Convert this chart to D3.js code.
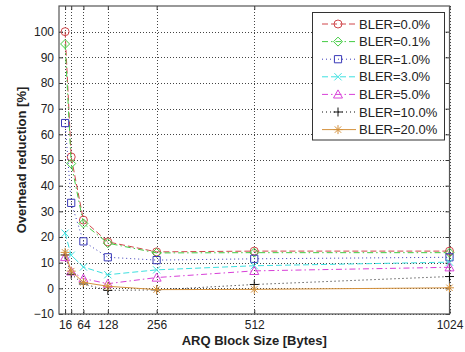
<!DOCTYPE html>
<html>
<head>
<meta charset="utf-8">
<script src="https://cdn.jsdelivr.net/npm/d3@7"></script>
<style>
  body { margin: 0; background: #fff; }
  svg { display: block; }
  text { font-family: "Liberation Sans", Arial, sans-serif; fill: #222; }
</style>
</head>
<body>
<svg id="chart" width="465" height="352"></svg>
<script>
// ARQ block sizes (bytes) and axis ticks
const blockSizes = [16, 32, 64, 128, 256, 512, 1024];
const xTicks = [16, 32, 64, 128, 256, 512, 1024];
const xTickLabels = ["16", "", "64", "128", "256", "512", "1024"];
const yTicks = [-10, 0, 10, 20, 30, 40, 50, 60, 70, 80, 90, 100];

// Overhead reduction [%] per block error rate
const seriesNames = ["BLER=0.0%", "BLER=0.1%", "BLER=1.0%", "BLER=3.0%", "BLER=5.0%", "BLER=10.0%", "BLER=20.0%"];
const bler00 = [100, 51.2, 26.6, 18.1, 14.2, 14.5, 14.5];
const bler01 = [95.2, 48.6, 25.3, 17.6, 13.8, 13.9, 13.9];
const bler1 = [64.4, 33.3, 18.3, 12.1, 11.0, 11.5, 12.1];
const bler3 = [21.5, 12.9, 8.3, 5.3, 7.2, 8.8, 10.2];
const bler5 = [12.2, 6.6, 3.8, 1.8, 4.2, 6.8, 8.2];
const bler10 = [13.0, 5.5, 1.7, -0.8, -0.6, 1.5, 4.6];
const bler20 = [14.0, 6.7, 2.3, 0.8, -0.5, -0.4, 0.2];
const seriesValues = [bler00, bler01, bler1, bler3, bler5, bler10, bler20];

// Line colour, dash pattern and marker for each series
const styles = [
  { color: "#d0474b", dash: "6,3", marker: "circle" },
  { color: "#44cc44", dash: "6,3,1.5,3", marker: "diamond" },
  { color: "#3a3ab8", dash: "1,3", marker: "square" },
  { color: "#3ee0e0", dash: "6,3", marker: "cross" },
  { color: "#d840d8", dash: "6,3,1.5,3", marker: "triangle" },
  { color: "#111111", dash: "1,3", marker: "plus" },
  { color: "#d4913c", dash: null, marker: "star" }
];

const svg = d3.select("#chart");
const L = 59, R = 449.5, T = 6, B = 314;

const x = d3.scaleLinear().domain([0, 1024]).range([L, R]);
const y = d3.scaleLinear().domain([-10, 110]).range([B, T]);

function markerPath(type, cx, cy) {
  const p = d3.path();
  if (type === "circle") {
    const r = 4;
    p.moveTo(cx + r, cy); p.arc(cx, cy, r, 0, 2 * Math.PI);
  } else if (type === "diamond") {
    const r = 4.5;
    p.moveTo(cx, cy - r); p.lineTo(cx + r, cy); p.lineTo(cx, cy + r); p.lineTo(cx - r, cy); p.closePath();
  } else if (type === "square") {
    const s = 3.6;
    p.rect(cx - s, cy - s, 2 * s, 2 * s);
  } else if (type === "triangle") {
    const r = 4.5;
    p.moveTo(cx, cy - r); p.lineTo(cx + r, cy + r * 0.8); p.lineTo(cx - r, cy + r * 0.8); p.closePath();
  } else if (type === "cross") {
    const r = 3.6;
    p.moveTo(cx - r, cy - r); p.lineTo(cx + r, cy + r);
    p.moveTo(cx - r, cy + r); p.lineTo(cx + r, cy - r);
  } else if (type === "plus") {
    const r = 4.5;
    p.moveTo(cx - r, cy); p.lineTo(cx + r, cy);
    p.moveTo(cx, cy - r); p.lineTo(cx, cy + r);
  } else if (type === "star") {
    const r = 4.5, d = 3.2;
    p.moveTo(cx - r, cy); p.lineTo(cx + r, cy);
    p.moveTo(cx, cy - r); p.lineTo(cx, cy + r);
    p.moveTo(cx - d, cy - d); p.lineTo(cx + d, cy + d);
    p.moveTo(cx - d, cy + d); p.lineTo(cx + d, cy - d);
  }
  return p.toString();
}

// Plot background
svg.append("rect").attr("x", L).attr("y", T).attr("width", R - L).attr("height", B - T).attr("fill", "#fff");

// Dotted grid
const grid = svg.append("g").attr("stroke", "#444").attr("stroke-width", 1)
  .attr("stroke-dasharray", "1,2").attr("shape-rendering", "crispEdges");
xTicks.forEach(t => {
  const px = Math.round(x(t)) + 0.5;
  grid.append("line").attr("x1", px).attr("x2", px).attr("y1", T).attr("y2", B);
});
yTicks.forEach(t => {
  const py = Math.round(y(t)) + 0.5;
  grid.append("line").attr("x1", L).attr("x2", R).attr("y1", py).attr("y2", py);
});

// Axes with ticks on all four sides
const tickLen = 4;
const xAxisB = d3.axisBottom(x).tickValues(xTicks).tickSizeInner(-tickLen).tickSizeOuter(0)
  .tickPadding(6).tickFormat((d, i) => xTickLabels[i]);
const xAxisT = d3.axisTop(x).tickValues(xTicks).tickSizeInner(-tickLen).tickSizeOuter(0).tickFormat("");
const yAxisL = d3.axisLeft(y).tickValues(yTicks).tickSizeInner(-tickLen).tickSizeOuter(0).tickPadding(5);
const yAxisR = d3.axisRight(y).tickValues(yTicks).tickSizeInner(-tickLen).tickSizeOuter(0).tickFormat("");

function styleAxis(g) {
  g.select(".domain").remove();
  g.selectAll("line").attr("stroke", "#333");
  g.selectAll("text").attr("font-size", 12).attr("fill", "#222")
    .attr("font-family", "\"Liberation Sans\", Arial, sans-serif");
}
svg.append("g").attr("transform", `translate(0,${B})`).call(xAxisB).call(styleAxis);
svg.append("g").attr("transform", `translate(0,${T})`).call(xAxisT).call(styleAxis);
svg.append("g").attr("transform", `translate(${L},0)`).call(yAxisL).call(styleAxis);
svg.append("g").attr("transform", `translate(${R},0)`).call(yAxisR).call(styleAxis);

// Box
svg.append("rect").attr("x", L).attr("y", T).attr("width", R - L).attr("height", B - T)
  .attr("fill", "none").attr("stroke", "#555").attr("stroke-width", 1.2);

// Series
const line = d3.line().x((d, i) => x(blockSizes[i])).y(d => y(d));
seriesValues.forEach((vals, k) => {
  const st = styles[k];
  const g = svg.append("g");
  g.append("path").attr("d", line(vals)).attr("fill", "none")
    .attr("stroke", st.color).attr("stroke-width", 1)
    .attr("stroke-dasharray", st.dash);
  g.selectAll("path.m").data(vals).join("path").attr("class", "m")
    .attr("d", (d, i) => markerPath(st.marker, x(blockSizes[i]), y(d)))
    .attr("fill", "none").attr("stroke", st.color).attr("stroke-width", 1);
});

// Legend
const lg = svg.append("g");
const lgX = 312.5, lgY = 12.5, lgW = 132, lgH = 127.5, rowH = 17.6, row0 = 24;
lg.append("rect").attr("x", lgX).attr("y", lgY).attr("width", lgW).attr("height", lgH)
  .attr("fill", "#fff").attr("stroke", "#333").attr("stroke-width", 1);
seriesNames.forEach((name, k) => {
  const st = styles[k];
  const cy = row0 + k * rowH;
  lg.append("line").attr("x1", 322).attr("x2", 356).attr("y1", cy).attr("y2", cy)
    .attr("stroke", st.color).attr("stroke-width", 1).attr("stroke-dasharray", st.dash);
  lg.append("path").attr("d", markerPath(st.marker, 338, cy))
    .attr("fill", "none").attr("stroke", st.color).attr("stroke-width", 1);
  lg.append("text").attr("x", 359).attr("y", cy).attr("dy", "0.36em")
    .attr("font-size", 13).text(name);
});

// Axis titles
svg.append("text").attr("x", (L + R) / 2).attr("y", 345).attr("text-anchor", "middle")
  .attr("font-size", 13).attr("font-weight", "bold").text("ARQ Block Size [Bytes]");
svg.append("text").attr("transform", `translate(26,${(T + B) / 2}) rotate(-90)`)
  .attr("text-anchor", "middle").attr("font-size", 13).attr("font-weight", "bold")
  .text("Overhead reduction [%]");
</script>
</body>
</html>
